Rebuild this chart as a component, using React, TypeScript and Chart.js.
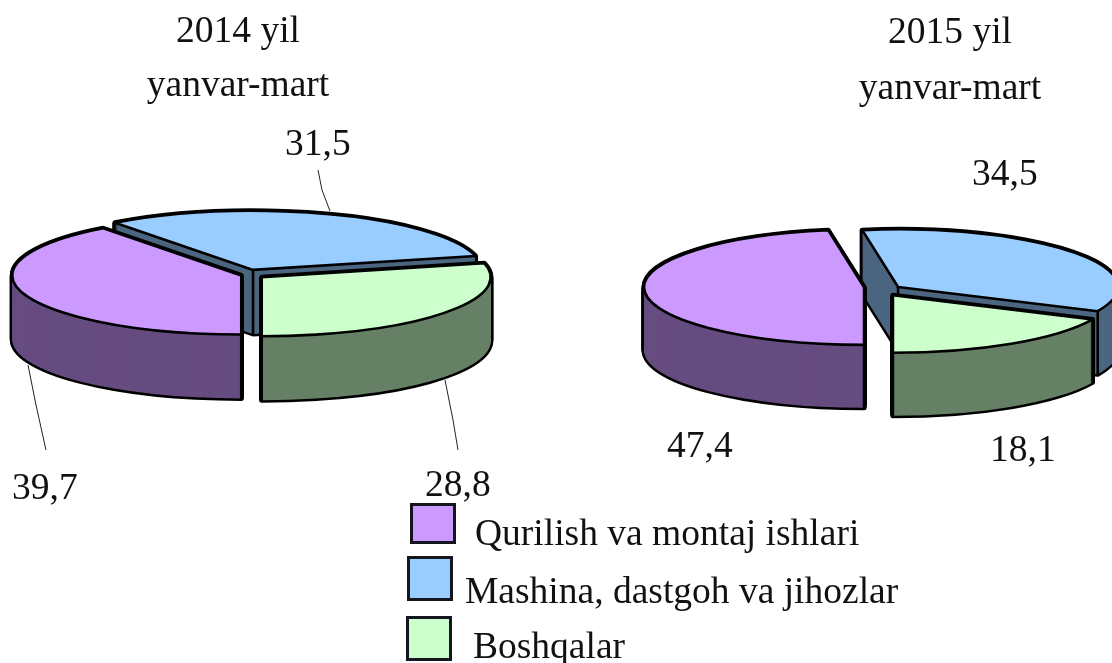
import React, { useEffect, useRef } from "react";
import { Chart, registerables } from "chart.js";

Chart.register(...registerables);

const categories = ["Qurilish va montaj ishlari", "Mashina, dastgoh va jihozlar", "Boshqalar"];
const values2014 = [39.7, 31.5, 28.8];
const values2015 = [47.4, 34.5, 18.1];
const titleLines2014 = ["2014 yil", "yanvar-mart"];
const titleLines2015 = ["2015 yil", "yanvar-mart"];
const topColors = ["#CC99FF", "#99CCFF", "#CCFFCC"];
const sideColors = ["#664C80", "#4C6680", "#668066"];

const W = 1112;
const H = 663;
const FONT = '"Liberation Serif", "Times New Roman", serif';
const DRAW_ORDER = [1, 0, 2];

const pieFrames = [
  {
    values: values2014, cx: 246, cy: 275, radius: 229, squash: 0.258, depth: 64,
    offsets: [5, 21, 20], lifts: [0, 0, -1],
    leaders: [
      [[28, 365], [36, 405], [46, 450]],
      [[318, 170], [322, 190], [330, 211]],
      [[445, 380], [453, 420], [458, 450]],
    ],
  },
  {
    values: values2015, cx: 873, cy: 287, radius: 220, squash: 0.262, depth: 63,
    offsets: [9, 31.5, 37], lifts: [0, 5, 0],
    leaders: [],
  },
];

const pseudo3d = {
  id: "pseudo3d",
  beforeDatasetDraw(chart: any, _args: any, opts: any) {
    const ctx = chart.ctx;
    const arcs = chart.getDatasetMeta(0).data;
    const { squash, depth, lifts } = opts;
    const geometry = (i: number) => {
      const a = arcs[i];
      const mid = (a.startAngle + a.endAngle) / 2;
      const off = a.options.offset || 0;
      return {
        a, mid,
        x: a.x + Math.cos(mid) * off,
        y: a.y + Math.sin(mid) * off * squash + (lifts[i] || 0),
        rx: a.outerRadius,
        ry: a.outerRadius * squash,
      };
    };
    const path = (g: any, dy: number) => {
      ctx.beginPath();
      ctx.moveTo(g.x, g.y + dy);
      ctx.ellipse(g.x, g.y + dy, g.rx, g.ry, 0, g.a.startAngle, g.a.endAngle, false);
      ctx.closePath();
    };
    ctx.save();
    ctx.lineJoin = "round";
    ctx.lineCap = "round";
    for (const i of DRAW_ORDER) {
      const g = geometry(i);
      ctx.strokeStyle = "#000";
      ctx.lineWidth = 5;
      for (let dy = depth; dy >= 0; dy -= 1) { path(g, dy); ctx.stroke(); }
      ctx.fillStyle = sideColors[i];
      for (let dy = depth; dy >= 0; dy -= 1) { path(g, dy); ctx.fill(); }
      ctx.lineWidth = 2.6;
      const edge = (x: number, y: number) => {
        ctx.beginPath();
        ctx.moveTo(x, y);
        ctx.lineTo(x, y + depth);
        ctx.stroke();
      };
      for (const ang of [g.a.startAngle, g.a.endAngle]) {
        if (Math.sin(ang) > -0.001) edge(g.x + Math.cos(ang) * g.rx, g.y + Math.sin(ang) * g.ry);
      }
      if (Math.sin(g.mid) < 0) edge(g.x, g.y);
      path(g, 0);
      ctx.fillStyle = topColors[i];
      ctx.fill();
      ctx.stroke();
    }
    ctx.restore();
    return false;
  },
  afterDraw(chart: any, _args: any, opts: any) {
    const ctx = chart.ctx;
    ctx.save();
    ctx.strokeStyle = "#222";
    ctx.lineWidth = 1;
    for (const line of opts.leaders) {
      ctx.beginPath();
      line.forEach((p: number[], k: number) => (k ? ctx.lineTo(p[0], p[1]) : ctx.moveTo(p[0], p[1])));
      ctx.stroke();
    }
    ctx.restore();
  },
};

function Pie({ frame }: { frame: (typeof pieFrames)[number] }) {
  const ref = useRef<HTMLCanvasElement>(null);
  useEffect(() => {
    const chart = new Chart(ref.current as HTMLCanvasElement, {
      type: "pie",
      data: {
        labels: categories,
        datasets: [{ data: frame.values, backgroundColor: topColors, borderWidth: 0, offset: frame.offsets }],
      },
      options: {
        responsive: false,
        animation: false,
        rotation: 180,
        radius: frame.radius,
        layout: {
          padding: {
            left: Math.max(0, 2 * frame.cx - W),
            right: Math.max(0, W - 2 * frame.cx),
            top: Math.max(0, 2 * frame.cy - H),
            bottom: Math.max(0, H - 2 * frame.cy),
          },
        },
        plugins: {
          legend: { display: false },
          tooltip: { enabled: false },
          title: { display: false },
          pseudo3d: { squash: frame.squash, depth: frame.depth, lifts: frame.lifts, leaders: frame.leaders },
        },
      } as any,
      plugins: [pseudo3d],
    });
    return () => chart.destroy();
  }, [frame]);
  return <canvas ref={ref} width={W} height={H} style={{ position: "absolute", left: 0, top: 0, display: "block" }} />;
}

function Txt({ x, base, children, center, size = 37.5 }: any) {
  return (
    <div
      style={{
        position: "absolute",
        left: x,
        top: base - 0.8375 * size,
        font: `${size}px/1 ${FONT}`,
        color: "#111",
        whiteSpace: "nowrap",
        transform: center ? "translateX(-50%)" : undefined,
      }}
    >
      {children}
    </div>
  );
}

const fmt = (v: number) => v.toFixed(1).replace(".", ",");

export default function App() {
  return (
    <div style={{ position: "absolute", left: 0, top: 0, width: W, height: H, overflow: "hidden", background: "#fff" }}>
      <Pie frame={pieFrames[0]} />
      <Pie frame={pieFrames[1]} />
      <Txt x={238} base={42} center>{titleLines2014[0]}</Txt>
      <Txt x={238} base={96} center>{titleLines2014[1]}</Txt>
      <Txt x={950} base={43} center>{titleLines2015[0]}</Txt>
      <Txt x={950} base={99} center>{titleLines2015[1]}</Txt>
      <Txt x={12} base={499}>{fmt(values2014[0])}</Txt>
      <Txt x={285} base={155}>{fmt(values2014[1])}</Txt>
      <Txt x={425} base={496}>{fmt(values2014[2])}</Txt>
      <Txt x={667} base={457}>{fmt(values2015[0])}</Txt>
      <Txt x={972} base={185}>{fmt(values2015[1])}</Txt>
      <Txt x={990} base={461}>{fmt(values2015[2])}</Txt>
      {[[410, 503, 475, 545], [407, 556, 465, 603], [406, 616, 473, 658]].map((r, i) => (
        <React.Fragment key={i}>
          <div style={{ position: "absolute", left: r[0], top: r[1], width: 46, height: i === 0 ? 41 : 45, boxSizing: "border-box", border: "3px solid #15151f", background: topColors[i] }} />
          <Txt x={r[2]} base={r[3]}>{categories[i]}</Txt>
        </React.Fragment>
      ))}
    </div>
  );
}
